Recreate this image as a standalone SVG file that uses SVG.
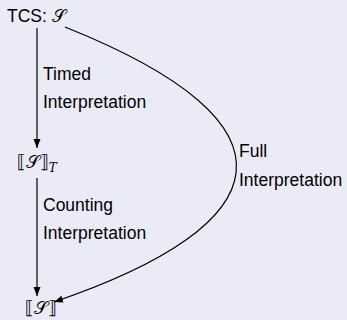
<svg xmlns="http://www.w3.org/2000/svg" width="347" height="320" viewBox="0 0 347 320">
<style>
.lbl{font-family:"Liberation Sans","Open Sans",sans-serif;font-size:17.5px;fill:#000}
.math{font-family:"DejaVu Serif","DejaVu Sans",serif;font-size:18px;fill:#000}
.edge{fill:none;stroke:#000;stroke-width:1.2}
</style>
<defs>
<marker id="ah" markerWidth="10" markerHeight="8" refX="9" refY="4" orient="auto" markerUnits="userSpaceOnUse">
<path d="M0,0.5 L9,4 L0,7.5 Z" fill="#000"/>
</marker>
</defs>
<rect width="347" height="320" fill="#ebebf7"/>
<g id="connectors">
<line class="edge" x1="37" y1="28" x2="37" y2="148" marker-end="url(#ah)"/>
<line class="edge" x1="37" y1="178" x2="37" y2="296" marker-end="url(#ah)"/>
<path class="edge" d="M65,27 C310,125 280,225 54,302" marker-end="url(#ah)"/>
<text class="lbl" x="43" y="80">Timed</text>
<text class="lbl" x="43" y="108">Interpretation</text>
<text class="lbl" x="43" y="211">Counting</text>
<text class="lbl" x="43" y="238.5">Interpretation</text>
<text class="lbl" x="239" y="157">Full</text>
<text class="lbl" x="239" y="185.5">Interpretation</text>
</g>
<g id="tcs">
<text class="lbl" x="7" y="22">TCS: <tspan class="math">𝒮</tspan></text>
</g>
<g id="timed">
<text class="math" x="17" y="168">⟦𝒮⟧<tspan font-size="12" font-style="italic" dy="4">T</tspan></text>
</g>
<g id="full">
<text class="math" x="25" y="314">⟦𝒮⟧</text>
</g>
</svg>
